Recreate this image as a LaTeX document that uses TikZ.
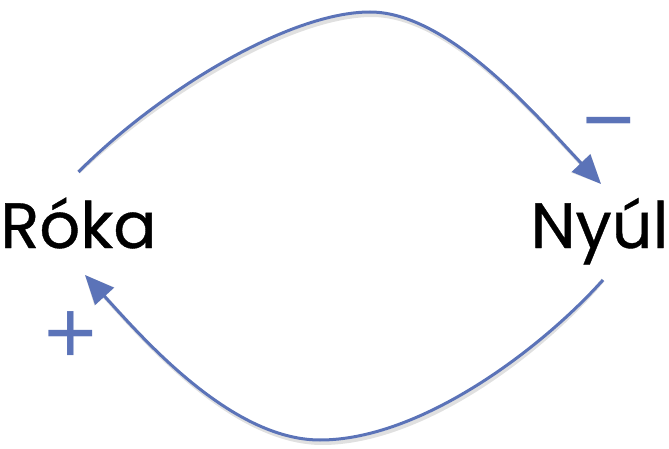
\documentclass[tikz,border=0pt]{standalone}
\usepackage{fontspec}
\setmainfont{Poppins}
\newfontfamily\wordfont[FakeBold=0.6]{Poppins}
\newfontfamily\signfont{Liberation Sans}
\usetikzlibrary{arrows.meta}
\definecolor{linkblue}{RGB}{91,115,184}
\tikzset{
  word/.style={font=\wordfont\fontsize{64}{64}\selectfont, text=black, inner sep=0pt, anchor=base},
  sign/.style={font=\signfont\fontsize{90}{90}\selectfont, text=linkblue, inner sep=0pt, anchor=base},
  link/.style={draw=linkblue, line width=3pt, -{Triangle[length=29pt,width=25pt]}},
  linkshadow/.style={draw=black, opacity=0.12, line width=4pt, -{Triangle[length=29pt,width=26pt]}}
}
\begin{document}
\begin{tikzpicture}[x=1pt,y=-1pt]
\useasboundingbox (0,0) rectangle (669,449);
\node[word] (roka) at (78.5,248) {Róka};
\node[word] (nyul) at (599.5,248) {Nyúl};
\node[sign] (minus) at (608.5,150.5) {\char"2212};
\node[sign] (plus) at (70.5,363.5) {+};
% shadows
\begin{scope}[shift={(2,3)}]
\draw[linkshadow] ([shift={(0,-76)}]roka.base) .. controls (160,90) and (290,12) .. (370,12)
  .. controls (450,12) and (540,120) .. ([shift={(1.5,-64)}]nyul.base);
\draw[linkshadow] ([shift={(3.5,32)}]nyul.base) .. controls (540,350) and (420,440) .. (320,440)
  .. controls (230,440) and (140,335) .. ([shift={(6.5,27)}]roka.base);
\end{scope}
\draw[link] ([shift={(0,-76)}]roka.base) .. controls (160,90) and (290,12) .. (370,12)
  .. controls (450,12) and (540,120) .. ([shift={(1.5,-64)}]nyul.base);
\draw[link] ([shift={(3.5,32)}]nyul.base) .. controls (540,350) and (420,440) .. (320,440)
  .. controls (230,440) and (140,335) .. ([shift={(6.5,27)}]roka.base);
\end{tikzpicture}
\end{document}
